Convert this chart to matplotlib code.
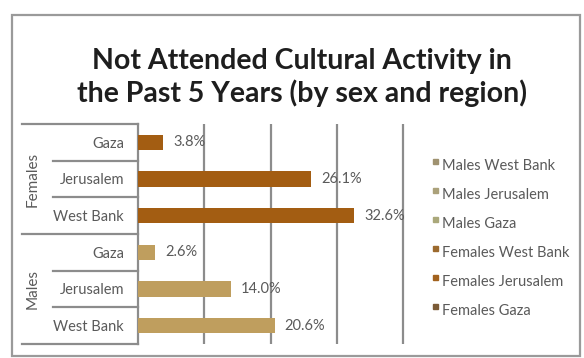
import matplotlib.pyplot as plt
from matplotlib.patches import Rectangle
from matplotlib.lines import Line2D

# Datos: porcentaje que no asistió a actividad cultural
regions = ["Gaza", "Jerusalem", "West Bank"]
females = [3.8, 26.1, 32.6]
males = [2.6, 14.0, 20.6]

legend_labels = ["Males West Bank", "Males Jerusalem", "Males Gaza",
                 "Females West Bank", "Females Jerusalem", "Females Gaza"]
legend_colors = ["#9f9270", "#aba17a", "#aaa87a", "#9c6a2e", "#a2621e", "#7b5b36"]

FEMALE_COLOR = "#a35d12"
MALE_COLOR = "#bf9e5e"
TEXT_COLOR = "#5a5a5a"
LINE_COLOR = "#8c8c8c"

W, H = 584, 358
fig = plt.figure(figsize=(W / 100, H / 100), dpi=100)
plt.rcParams["font.family"] = ["Lato", "DejaVu Sans"]


def fx(px):
    return px / W


def fy(py):
    return 1 - py / H


# Marco exterior
fig.add_artist(Rectangle((fx(12), fy(356)), fx(568), fy(15) - fy(356),
                         transform=fig.transFigure, fill=False,
                         edgecolor="#9a9a9a", lw=1.6))

fig.text(fx(302), fy(69), "Not Attended Cultural Activity in",
         ha="center", va="baseline", fontsize=20.5, fontweight="bold", color="#1e1e1e")
fig.text(fx(302), fy(102), "the Past 5 Years (by sex and region)",
         ha="center", va="baseline", fontsize=20.5, fontweight="bold", color="#1e1e1e")

# Ejes de barras (0-40 %, 6.63 px por punto)
top, bottom, left = 124, 344, 138
xmax = 40.5
right = left + 6.63 * xmax
ax = fig.add_axes([fx(left), fy(bottom), fx(right - left), fy(top) - fy(bottom)])

values = females + males
colors = [FEMALE_COLOR] * len(females) + [MALE_COLOR] * len(males)
labels = regions + regions
pos = list(range(len(values)))
ax.barh(pos, values, height=0.41, color=colors, zorder=3)
for p, v in zip(pos, values):
    ax.text(v + 1.5, p, f"{v:.1f}%", va="center", ha="left",
            fontsize=10.5, color=TEXT_COLOR, zorder=4)

ax.set_xlim(0, xmax)
ax.set_ylim(len(values) - 0.5, -0.5)
ax.set_xticks([10, 20, 30, 40])
ax.set_xticklabels([])
ax.tick_params(length=0)
ax.grid(axis="x", color=LINE_COLOR, lw=1.6, zorder=0)
ax.set_yticks(pos)
ax.set_yticklabels(labels, fontsize=10.5, color=TEXT_COLOR)
ax.tick_params(axis="y", pad=10)
for s in ax.spines.values():
    s.set_visible(False)
ax.spines["left"].set_visible(True)
ax.spines["left"].set_color(LINE_COLOR)
ax.spines["left"].set_linewidth(1.6)

# Líneas de la categoría agrupada (sexo / región)
row_h = (bottom - top) / len(values)
seps = []
for g in range(2):
    base = top + g * 3 * row_h
    seps.append((22, base))
    for k in (1, 2):
        seps.append((53, base + k * row_h))
seps.append((22, bottom))
for x0, y in seps:
    fig.add_artist(Line2D([fx(x0), fx(left)], [fy(y), fy(y)],
                          transform=fig.transFigure, color=LINE_COLOR, lw=1.6))

for g, name in enumerate(["Females", "Males"]):
    yc = top + (g * 3 + 1.5) * row_h
    fig.text(fx(33), fy(yc), name, rotation=90, ha="center", va="center",
             fontsize=11, color=TEXT_COLOR)

# Leyenda
for i, (lab, col) in enumerate(zip(legend_labels, legend_colors)):
    y = 165 + i * 29
    fig.add_artist(Rectangle((fx(433), fy(y - 1)), fx(5), fy(0) - fy(5),
                             transform=fig.transFigure, color=col))
    fig.text(fx(442), fy(y + 1), lab, ha="left", va="center",
             fontsize=10.5, color=TEXT_COLOR)

fig.savefig("out.png", dpi=100)
